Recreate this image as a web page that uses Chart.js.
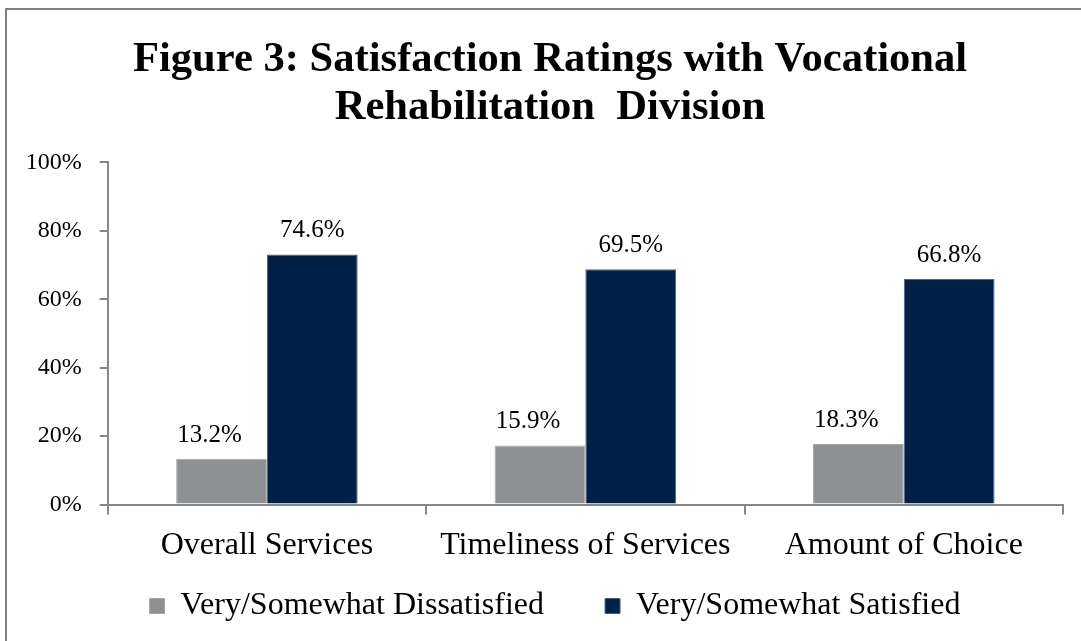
<!DOCTYPE html>
<html>
<head>
<meta charset="utf-8">
<script src="https://cdn.jsdelivr.net/npm/chart.js@4/dist/chart.umd.min.js"></script>
<style>
  html, body { margin: 0; padding: 0; background: #fff; }
  #wrap { position: relative; width: 1081px; height: 641px; overflow: hidden; }
  #frame { position: absolute; left: 5px; top: 8px; width: 1200px; height: 800px;
           border-left: 2px solid #808080; border-top: 2px solid #808080; }
  canvas { position: absolute; left: 0; top: 0; }
</style>
</head>
<body>
<div id="wrap">
  <div id="frame"></div>
  <canvas id="chart" width="1081" height="641"></canvas>
</div>
<script>
const categories = ['Overall Services', 'Timeliness of Services', 'Amount of Choice'];
const seriesNames = ['Very/Somewhat Dissatisfied', 'Very/Somewhat Satisfied'];
// bar heights as drawn in the figure
const dissatisfied = [13.4, 17.3, 17.7];
const satisfied = [73.1, 68.8, 65.9];
// printed data labels
const dissatisfiedLabels = ['13.2%', '15.9%', '18.3%'];
const satisfiedLabels = ['74.6%', '69.5%', '66.8%'];
const yTicks = [0, 20, 40, 60, 80, 100];

const SERIF = "'Liberation Serif', 'Times New Roman', serif";

const dataLabels = {
  id: 'dataLabels',
  afterDatasetsDraw(chart) {
    const ctx = chart.ctx;
    ctx.save();
    ctx.font = '25px ' + SERIF;
    ctx.fillStyle = '#000';
    ctx.textAlign = 'center';
    ctx.textBaseline = 'alphabetic';
    chart.data.datasets.forEach((ds, i) => {
      const shift = i === 0 ? -12 : 0;
      chart.getDatasetMeta(i).data.forEach((bar, j) => {
        ctx.fillText(ds.labelText[j], bar.x + shift, bar.y - 17);
      });
    });
    ctx.restore();
  }
};

// title and legend sit a little right of the canvas centre in the original
const nudge = {
  id: 'nudge',
  afterLayout(chart) {
    chart.titleBlock.left += 14;
    chart.titleBlock.right += 14;
    chart.legend.left += 19;
    chart.legend.right += 19;
  }
};

new Chart(document.getElementById('chart'), {
  type: 'bar',
  data: {
    labels: categories,
    datasets: [{
      label: seriesNames[0],
      data: dissatisfied,
      labelText: dissatisfiedLabels,
      backgroundColor: '#8e9194',
      borderColor: '#a4a7aa',
      borderWidth: 1,
      categoryPercentage: 0.57,
      barPercentage: 1,
    }, {
      label: seriesNames[1],
      data: satisfied,
      labelText: satisfiedLabels,
      backgroundColor: '#002147',
      borderColor: '#4a6080',
      borderWidth: 1,
      categoryPercentage: 0.57,
      barPercentage: 1,
    }]
  },
  options: {
    responsive: false,
    animation: false,
    layout: { padding: { left: 9, right: 18, top: 0, bottom: 9 } },
    plugins: {
      title: {
        display: true,
        text: ['Figure 3: Satisfaction Ratings with Vocational', 'Rehabilitation  Division'],
        color: '#000',
        font: { family: SERIF, size: 42.6, weight: 'bold', lineHeight: 1.12 },
        padding: { top: 36, bottom: 31 },
      },
      legend: {
        position: 'bottom',
        labels: {
          color: '#000',
          font: { family: SERIF, size: 32 },
          boxWidth: 15,
          boxHeight: 15,
          padding: 13,
          generateLabels: chart => Chart.defaults.plugins.legend.labels.generateLabels(chart)
            .map((item, i) => Object.assign(item, { text: i === 0 ? item.text + '      ' : item.text })),
        }
      },
      tooltip: { enabled: false },
    },
    scales: {
      x: {
        grid: { display: true, drawOnChartArea: false, offset: true, tickLength: 10, color: '#888', lineWidth: 2 },
        border: { color: '#888', width: 2 },
        ticks: { color: '#000', font: { family: SERIF, size: 32 }, padding: 12 },
      },
      y: {
        min: 0,
        max: 100,
        afterBuildTicks: axis => { axis.ticks = yTicks.map(v => ({ value: v })); },
        afterFit: axis => { axis.width = 98.7; },
        grid: { display: true, drawOnChartArea: false, tickLength: 8, color: '#888', lineWidth: 2 },
        border: { color: '#888', width: 2 },
        ticks: { color: '#000', font: { family: SERIF, size: 24 }, padding: 18, callback: v => v + '%' },
      }
    }
  },
  plugins: [dataLabels, nudge]
});
</script>
</body>
</html>
